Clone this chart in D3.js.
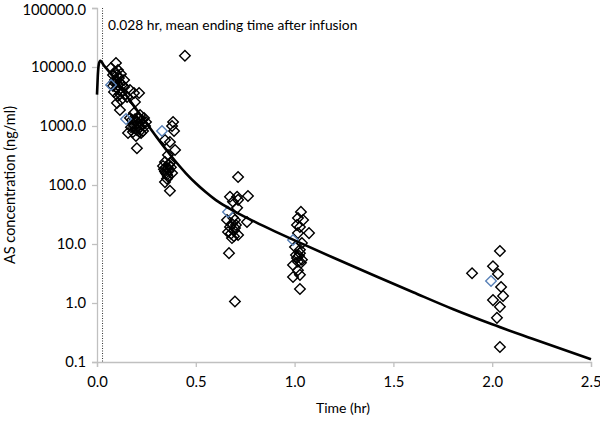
<!DOCTYPE html>
<html><head><meta charset="utf-8">
<script src="https://cdn.jsdelivr.net/npm/d3@7"></script>
<style>
body{margin:0;background:#fff;}
text{font-family:Lato,"Open Sans",sans-serif;fill:#000;}
</style></head>
<body><svg id="c" width="600" height="421"></svg>
<script>
// Observed concentrations (time hr, conc ng/ml)
const obsTime = [
 0.096,0.106,0.081,0.121,0.091,0.116,0.101,0.137,0.127,0.167,0.187,0.213,0.116,0.192,0.152,0.081,0.111,0.086,0.106,0.071,0.137,0.121,0.101,0.091,
 0.096,0.106,0.111,0.101,0.127,0.116,0.142,0.086,
 0.187,0.218,0.207,0.177,0.238,0.197,0.228,0.187,0.213,0.243,0.202,0.182,0.223,0.157,0.197,0.233,0.202,0.167,0.248,
 0.192,0.207,0.218,0.197,0.228,0.182,0.213,0.172,
 0.385,0.380,0.390,0.344,0.369,0.395,0.359,0.344,0.369,0.334,0.359,0.344,0.380,0.354,0.344,0.369,
 0.349,0.364,0.354,0.374,0.339,0.359,0.364,0.349,0.445,
 0.714,0.673,0.709,0.764,0.688,0.714,0.709,0.658,0.698,0.759,0.673,0.698,0.663,0.714,0.683,0.668,0.698,
 0.683,0.693,0.703,0.678,0.688,0.693,
 1.032,1.017,1.043,1.012,1.027,1.073,1.017,1.037,1.002,1.027,1.012,1.037,0.992,1.017,0.992,1.027,1.027,
 1.022,1.017,1.027,1.007,1.032,
 2.039,2.004,2.029,2.045,2.055,2.004,2.039,2.024,2.039,1.898
];
const obsConc = [
 11700,8900,7310,7600,6020,5360,4410,4580,3770,4070,3620,3620,1870,2550,3100,4760,6510,3770,3220,9620,6020,2760,2450,8230,
 5570,4950,4070,7310,5000,3500,3400,5500,
 1660,1540,1370,1260,1370,1170,1080,1000,925,1000,855,790,760,760,677,822,420,1370,1170,
 1300,1100,950,900,1250,1100,800,950,
 1170,1000,822,580,536,392,322,245,236,210,194,170,160,128,112,80,
 200,175,150,200,185,140,220,160,15500,
 137,63,63,65,52,56,41,25.5,25.5,23.6,19.4,18.7,16,14.2,12.6,7.0,1.06,
 22,17,21,15,28,13.5,
 35,27.6,25.5,21,19.4,15.3,15.3,10.4,8.9,7.0,5.8,5.4,4.4,3.6,2.76,3.0,1.73,
 6.3,5.0,8,6.5,4.8,
 7.6,4.2,3.1,1.87,1.32,1.12,0.86,0.56,0.18,3.2
];
// Mean observed values (blue)
const meanTime = [0.071,0.147,0.329,0.663,0.992,1.994];
const meanConc = [4950,1310,822,35,11.7,2.36];
// Model-predicted curve
const predTime = [0,0.004,0.008,0.013,0.018,0.025,0.035,0.05,0.065,0.08,0.1,0.13,0.16,0.2,0.25,0.3,0.35,0.4,0.45,0.5,0.55,0.6,0.65,0.7,0.8,0.9,1.0,1.2,1.4,1.6,1.8,2.0,2.2,2.5];
const predConc = [3400,7000,10500,12300,12700,12000,10600,9300,8000,6900,5600,4050,2900,1905,1122,661,398,245,158,107,76,56,43.7,35.1,23.7,16.4,11.5,5.78,2.95,1.52,0.79,0.435,0.25,0.111];
const infusionEnd = 0.028;
const xTicks = [0,0.5,1.0,1.5,2.0,2.5];
const yTicks = [0.1,1,10,100,1000,10000,100000];

const svg = d3.select("#c");
const x = d3.scaleLinear().domain([0,2.5]).range([97,591]);
const y = d3.scaleLog().domain([0.1,100000]).range([362,8]);
const axisCol = "#c0c0c0";

// axes
const xa = svg.append("g").attr("transform","translate(0,362)")
 .call(d3.axisBottom(x).tickValues(xTicks).tickSize(5).tickFormat(d3.format(".1f")));
const ya = svg.append("g").attr("transform","translate(97,0)")
 .call(d3.axisLeft(y).tickValues(yTicks).tickSize(5).tickFormat(d3.format(".1f")));
[xa,ya].forEach(a=>{
 a.selectAll("path").attr("stroke",axisCol).attr("stroke-width",1.3);
 a.selectAll("line").attr("stroke",axisCol).attr("stroke-width",1.3);
 a.selectAll("text").style("font-family","Lato, 'Open Sans', sans-serif").attr("font-size",14.8).attr("fill","#000");
});
xa.selectAll("text").attr("dy","1.15em");
xa.selectAll(".tick").filter(d=>d===2.5).select("text").attr("text-anchor","end").attr("dx","10");
ya.selectAll("text").attr("dx","-3");
ya.selectAll(".tick").filter(d=>d===100000).select("text").attr("dy","0.42em");

// dotted infusion line
svg.append("line").attr("x1",x(infusionEnd)).attr("x2",x(infusionEnd))
 .attr("y1",y(100000)).attr("y2",y(0.1))
 .attr("stroke","#333").attr("stroke-width",1).attr("stroke-dasharray","1,1.5");
svg.append("text").attr("x",108).attr("y",30).attr("font-size",13.8)
 .text("0.028 hr, mean ending time after infusion");

// markers
const sym = d3.symbol().type(d3.symbolSquare).size(56);
svg.append("g").selectAll("path").data(obsTime.map((t,i)=>[t,obsConc[i]])).join("path")
 .attr("d",sym).attr("transform",d=>`translate(${x(d[0])},${y(d[1])}) rotate(45)`)
 .attr("fill","none").attr("stroke","#000").attr("stroke-width",1.4);
svg.append("g").selectAll("path").data(meanTime.map((t,i)=>[t,meanConc[i]])).join("path")
 .attr("d",sym).attr("transform",d=>`translate(${x(d[0])},${y(d[1])}) rotate(45)`)
 .attr("fill","none").attr("stroke","#5a82b8").attr("stroke-width",1.4);

// curve
const line = d3.line().x(d=>x(d[0])).y(d=>y(d[1])).curve(d3.curveMonotoneX);
svg.append("path").datum(predTime.map((t,i)=>[t,predConc[i]]))
 .attr("d",line).attr("fill","none").attr("stroke","#000").attr("stroke-width",2.6);

// titles
svg.append("text").attr("x",343).attr("y",413).attr("text-anchor","middle").attr("font-size",14).text("Time (hr)");
svg.append("text").attr("transform","translate(15,185) rotate(-90)").attr("text-anchor","middle").attr("font-size",14.5).text("AS concentration (ng/ml)");
</script></body></html>
